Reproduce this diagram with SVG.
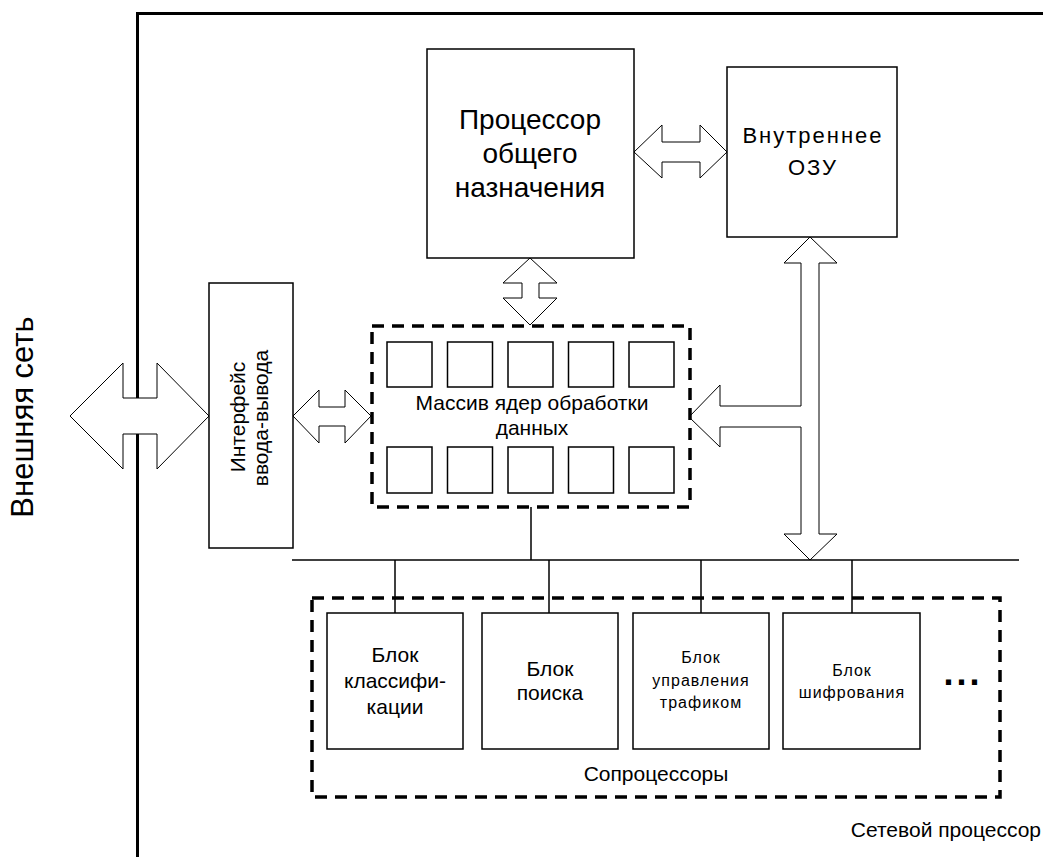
<svg xmlns="http://www.w3.org/2000/svg" width="1043" height="857" viewBox="0 0 1043 857">
<style>
.box{fill:#fff;stroke:#000;stroke-width:1.5}
.dash{fill:none;stroke:#000;stroke-width:3.5;stroke-dasharray:12 8}
.arr{fill:#fff;stroke:#000;stroke-width:1}
.ln{fill:none;stroke:#000;stroke-width:1.5}
.frame{fill:none;stroke:#000;stroke-width:3}
text{font-family:"Liberation Sans",Arial,sans-serif;fill:#000;text-anchor:middle}
</style>
<rect width="1043" height="857" fill="#fff"/>
<g id="frame">
<polyline class="frame" points="137.5,857 137.5,13.5 1043,13.5"/>
<text x="1041" y="837" font-size="21" style="text-anchor:end">Сетевой процессор</text>
</g>
<g id="external">
<text transform="translate(33,417) rotate(-90)" font-size="31">Внешняя сеть</text>
</g>
<g id="connectors">
<polygon class="arr" points="70,416 123,363 123,398 157,398 157,363 209,416 157,469 157,434 123,434 123,469"/>
<polygon class="arr" points="293,416 319,390 319,407 345,407 345,390 371,416 345,443 345,426 319,426 319,443"/>
<polygon class="arr" points="634,152 662,125 662,142 700,142 700,125 727,152 700,178 700,162 662,162 662,178"/>
<polygon class="arr" points="530,258 557,283 539,283 539,298 557,298 530,325 503,298 522,298 522,283 503,283"/>
<polygon class="arr" points="810,237 837,263 819,263 819,534 837,534 810,560 784,534 801,534 801,427 720,427 720,447 689,417 720,385 720,406 801,406 801,263 784,263"/>
<line class="ln" x1="292" y1="560" x2="1019" y2="560"/>
<line class="ln" x1="531" y1="507" x2="531" y2="560"/>
<line class="ln" x1="395" y1="560" x2="395" y2="613"/>
<line class="ln" x1="549" y1="560" x2="549" y2="613"/>
<line class="ln" x1="701" y1="560" x2="701" y2="613"/>
<line class="ln" x1="852" y1="560" x2="852" y2="613"/>
</g>
<g id="io">
<rect class="box" x="209" y="283" width="84" height="265"/>
<text transform="translate(245,417) rotate(-90)" font-size="21">Интерфейс</text>
<text transform="translate(268,418) rotate(-90)" font-size="21">ввода-вывода</text>
</g>
<g id="cpu">
<rect class="box" x="427" y="49" width="207" height="209"/>
<text x="530" y="129" font-size="28">Процессор</text>
<text x="530" y="163" font-size="28">общего</text>
<text x="530" y="197" font-size="28">назначения</text>
</g>
<g id="ram">
<rect class="box" x="727" y="67" width="170" height="170"/>
<text x="813" y="143" font-size="22" letter-spacing="2">Внутреннее</text>
<text x="813" y="175" font-size="22" letter-spacing="2">ОЗУ</text>
</g>
<g id="cores">
<rect class="dash" x="372" y="326" width="318" height="181"/>
<rect class="box" x="387" y="342" width="45" height="45"/>
<rect class="box" x="447.5" y="342" width="45" height="45"/>
<rect class="box" x="508" y="342" width="45" height="45"/>
<rect class="box" x="568.5" y="342" width="45" height="45"/>
<rect class="box" x="629" y="342" width="45" height="45"/>
<rect class="box" x="387" y="447" width="45" height="46"/>
<rect class="box" x="447.5" y="447" width="45" height="46"/>
<rect class="box" x="508" y="447" width="45" height="46"/>
<rect class="box" x="568.5" y="447" width="45" height="46"/>
<rect class="box" x="629" y="447" width="45" height="46"/>
<text x="532" y="410" font-size="21">Массив ядер обработки</text>
<text x="532" y="435" font-size="21">данных</text>
</g>
<g id="coproc">
<rect class="dash" x="312" y="598" width="688" height="199"/>
<text x="656" y="781" font-size="21">Сопроцессоры</text>
<text x="963" y="685" font-size="36" font-weight="bold" letter-spacing="3">...</text>
</g>
<g id="classify">
<rect class="box" x="327" y="613" width="136" height="136"/>
<text x="395" y="662" font-size="21">Блок</text>
<text x="395" y="688" font-size="21">классифи-</text>
<text x="395" y="714" font-size="21">кации</text>
</g>
<g id="search">
<rect class="box" x="482" y="613" width="136" height="136"/>
<text x="550" y="676" font-size="21">Блок</text>
<text x="550" y="700" font-size="21">поиска</text>
</g>
<g id="traffic">
<rect class="box" x="633" y="613" width="136" height="136"/>
<text x="701" y="663" font-size="16" letter-spacing="1">Блок</text>
<text x="701" y="686" font-size="16" letter-spacing="1">управления</text>
<text x="701" y="708" font-size="16" letter-spacing="1">трафиком</text>
</g>
<g id="crypto">
<rect class="box" x="783" y="613" width="137" height="136"/>
<text x="852" y="676" font-size="16" letter-spacing="1">Блок</text>
<text x="852" y="698" font-size="16" letter-spacing="1">шифрования</text>
</g>
</svg>
